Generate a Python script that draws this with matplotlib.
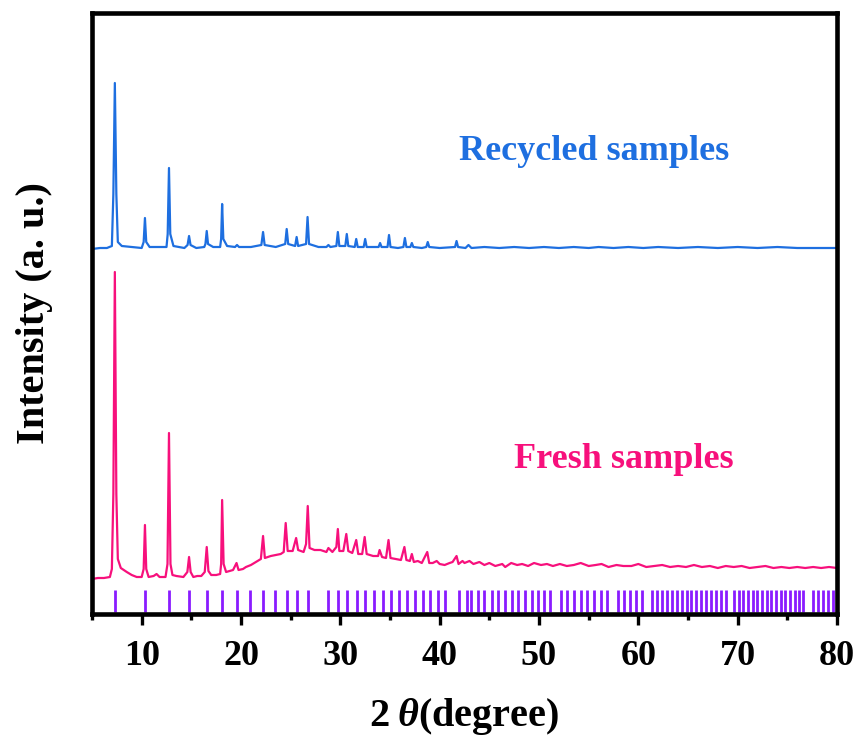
import matplotlib
matplotlib.use("Agg")
import matplotlib.pyplot as plt
import numpy as np

# ---------------- data ----------------
# Fresh sample trace: 2theta (deg) and intensity (a.u.)
fresh_x = [5.0, 5.6, 6.2, 6.8, 7.0, 7.15, 7.3, 7.45, 7.6, 7.9, 8.5, 9.0, 9.5, 10.0,
           10.2, 10.33, 10.46, 10.7, 11.2, 11.5, 11.8, 12.4,
           12.6, 12.75, 12.9, 13.1, 13.5, 14.2,
           14.6, 14.77, 14.93, 15.2, 15.6, 16.0, 16.35, 16.55, 16.72, 17.0, 17.5, 17.9,
           18.0, 18.1, 18.25, 18.5, 19.2, 19.55, 19.75, 20.2, 20.5, 21.0, 21.5, 22.0,
           22.22, 22.4, 22.7, 23.0, 23.5, 24.0, 24.3, 24.5, 24.7, 25.2, 25.55, 25.75,
           26.3, 26.55, 26.72, 26.9, 27.4, 28.0, 28.6, 28.8, 29.2, 29.6, 29.75, 29.9,
           30.3, 30.6, 30.8, 31.2, 31.6, 31.8, 32.2, 32.45, 32.65, 33.3, 33.8, 33.95,
           34.2, 34.6, 34.85, 35.05, 35.6, 36.1, 36.45, 36.65, 37.0, 37.2, 37.4, 37.8,
           38.2, 38.75, 38.95, 39.3, 39.7, 40.0, 40.5, 41.0, 41.3, 41.7, 41.9, 42.3,
           42.5, 43.0, 43.4, 44.0, 44.5, 45.0, 45.6, 46.3, 46.6, 47.2, 47.8, 48.3,
           48.9, 49.5, 50.2, 50.8, 51.4, 52.1, 52.8, 53.5, 54.2, 55.0, 55.7, 56.3,
           57.0, 57.8, 58.5, 59.3, 60.0, 60.8, 61.6, 62.4, 63.2, 64.0, 64.8, 65.6,
           66.4, 67.2, 68.0, 68.8, 69.6, 70.4, 71.2, 72.0, 72.8, 73.6, 74.4, 75.2,
           76.0, 76.8, 77.6, 78.4, 79.2, 80.0]
fresh_y = [35, 36, 36, 37, 45, 120, 342, 120, 55, 46, 42, 39, 37, 37,
           45, 89, 45, 37, 38, 40, 37, 37,
           50, 181, 50, 39, 38, 37,
           42, 57, 42, 37, 38, 38, 42, 67, 43, 39, 39, 40,
           50, 114, 50, 42, 44, 51, 44, 45, 47, 49, 52, 55,
           78, 56, 57, 58, 59, 60, 62, 91, 63, 63, 76, 64,
           62, 70, 108, 66, 64, 64, 62, 66, 62, 67, 85, 63,
           63, 80, 63, 61, 74, 60, 60, 77, 60, 58, 58, 64,
           57, 56, 74, 56, 55, 54, 67, 54, 53, 60, 52, 53,
           51, 62, 51, 51, 53, 50, 49, 51, 52, 58, 50, 53,
           51, 53, 50, 52, 49, 51, 48, 50, 47, 51, 49, 50,
           48, 51, 49, 50, 48, 50, 48, 49, 51, 48, 49, 50,
           47, 49, 48, 48, 50, 47, 48, 49, 47, 48, 47, 49,
           47, 48, 46, 48, 47, 48, 46, 47, 48, 46, 47, 46,
           47, 46, 47, 46, 47, 46]

# Recycled sample trace (plotted with a vertical offset)
recycled_x = [5.0, 5.8, 6.5, 7.0, 7.15, 7.3, 7.45, 7.6, 8.0, 9.0, 10.0,
              10.2, 10.33, 10.46, 10.8, 11.8, 12.5,
              12.62, 12.75, 12.88, 13.2, 14.3,
              14.62, 14.77, 14.92, 15.5, 16.3, 16.42, 16.55, 16.68, 17.2, 17.9,
              18.0, 18.1, 18.22, 18.6, 19.4, 19.6, 19.8, 21.0, 22.05, 22.22, 22.38,
              23.5, 24.45, 24.6, 24.75, 25.45, 25.6, 25.75, 26.55, 26.7, 26.85, 27.8,
              28.6, 28.8, 29.0, 29.6, 29.75, 29.9, 30.5, 30.65, 30.8, 31.45, 31.6,
              31.75, 32.35, 32.5, 32.65, 33.3, 33.85, 34.0, 34.15, 34.75, 34.9, 35.05,
              35.8, 36.35, 36.5, 36.65, 37.05, 37.2, 37.35, 38.2, 38.65, 38.8, 38.95,
              40.0, 41.55, 41.7, 41.85, 42.6, 42.9, 43.2, 44.5, 46.0, 47.5, 49.0,
              50.5, 52.0, 53.5, 55.0, 56.0, 57.5, 59.0, 60.5, 62.0, 64.0, 66.0, 68.0,
              70.0, 72.0, 74.0, 76.0, 78.0, 80.0]
recycled_y = [35, 36, 36, 38, 90, 201, 90, 42, 38, 37, 36,
              42, 66, 42, 37, 37, 37,
              50, 116, 50, 38, 36,
              39, 48, 39, 36, 37, 40, 53, 40, 37, 37,
              45, 80, 45, 38, 37, 39, 37, 37, 39, 52, 39,
              37, 40, 55, 40, 38, 47, 38, 40, 67, 40, 37,
              37, 39, 37, 38, 52, 38, 38, 50, 38, 37, 45,
              37, 37, 45, 37, 37, 37, 41, 37, 37, 49, 37,
              36, 37, 46, 37, 37, 41, 37, 36, 37, 42, 37,
              36, 37, 43, 37, 36, 39, 36, 37, 36, 37, 36,
              37, 36, 37, 36, 37, 36, 37, 36, 37, 36, 37, 36,
              37, 36, 37, 36, 36, 36]
recycled_offset = 330

# Reference (standard) reflection positions, 2theta (deg)
ref_positions = [7.32, 10.34, 12.75, 14.77, 16.55, 18.09, 19.57, 20.94, 22.22,
                 23.46, 24.64, 25.68, 26.79, 28.80, 29.77, 30.71, 31.65, 32.53,
                 33.40, 34.27, 35.11, 35.95, 36.72, 37.53, 38.33, 39.07, 39.81,
                 40.52, 41.96, 42.73, 43.16, 43.83, 44.49, 45.23, 45.90, 46.57,
                 47.25, 47.91, 48.58, 49.25, 49.92, 50.53, 51.10,
                 52.22, 52.86, 53.53, 54.20, 54.87, 55.54, 56.21, 56.88,
                 58.00, 58.60, 59.20, 59.80, 60.40,
                 61.35, 61.85, 62.35, 62.85, 63.35, 63.85, 64.35, 64.85, 65.35,
                 65.85, 66.35, 66.85, 67.35, 67.85, 68.35, 68.83,
                 69.63, 70.10, 70.57, 71.04, 71.51, 71.98, 72.45, 72.92, 73.39,
                 73.86, 74.33, 74.80, 75.27, 75.74, 76.21, 76.61,
                 77.55, 78.05, 78.55, 79.05, 79.55, 79.95]

x_ticks = [10, 20, 30, 40, 50, 60, 70, 80]
x_label = "2\u2009$\\mathit{\\theta}$(degree)"
y_label = "Intensity (a. u.)"
fresh_label = "Fresh samples"
recycled_label = "Recycled samples"

# ---------------- style ----------------
plt.rcParams['font.family'] = ['Liberation Serif', 'DejaVu Serif']
plt.rcParams['font.weight'] = 'bold'
plt.rcParams['mathtext.fontset'] = 'custom'
plt.rcParams['mathtext.rm'] = 'Liberation Serif:bold'
plt.rcParams['mathtext.it'] = 'Liberation Serif:italic:bold'
plt.rcParams['mathtext.bf'] = 'Liberation Serif:bold'

fresh_color = '#F7107C'
recycled_color = '#1E6FE0'
ref_color = '#8A1CFF'

fig = plt.figure(figsize=(8.61, 7.35), dpi=100)
W, H = 861, 735
ax = fig.add_axes([92 / W, 1 - 614 / H, (837 - 92) / W, (614 - 13) / H])

ax.plot(fresh_x, fresh_y, color=fresh_color, lw=1.6, solid_joinstyle='round')
ax.plot(recycled_x, np.array(recycled_y) + recycled_offset, color=recycled_color,
        lw=1.6, solid_joinstyle='round')
ax.vlines(ref_positions, 2, 24, color=ref_color, lw=2.0)

ax.set_xlim(5, 80)
ax.set_ylim(0, 601)
ax.set_xticks(x_ticks)
ax.set_xticks([5, 15, 25, 35, 45, 55, 65, 75], minor=True)
ax.set_yticks([])
ax.tick_params(axis='x', which='major', direction='out', length=8, width=2.4,
               labelsize=26, pad=11)
ax.tick_params(axis='x', which='minor', direction='out', length=4, width=2.4)
for lab in ax.get_xticklabels():
    lab.set_fontweight('bold')
for sp in ax.spines.values():
    sp.set_linewidth(3.3)

ax.set_xlabel(x_label, fontsize=29, fontweight='bold', labelpad=16)
ax.set_ylabel(y_label, fontsize=29, fontweight='bold', labelpad=28)

ax.text(594, H - 152, recycled_label, transform=None, fontsize=26, fontweight='bold',
        color=recycled_color, ha='center', va='center')
ax.text(624, H - 459, fresh_label, transform=None, fontsize=26, fontweight='bold',
        color=fresh_color, ha='center', va='center')

fig.savefig('out.png', dpi=100)
